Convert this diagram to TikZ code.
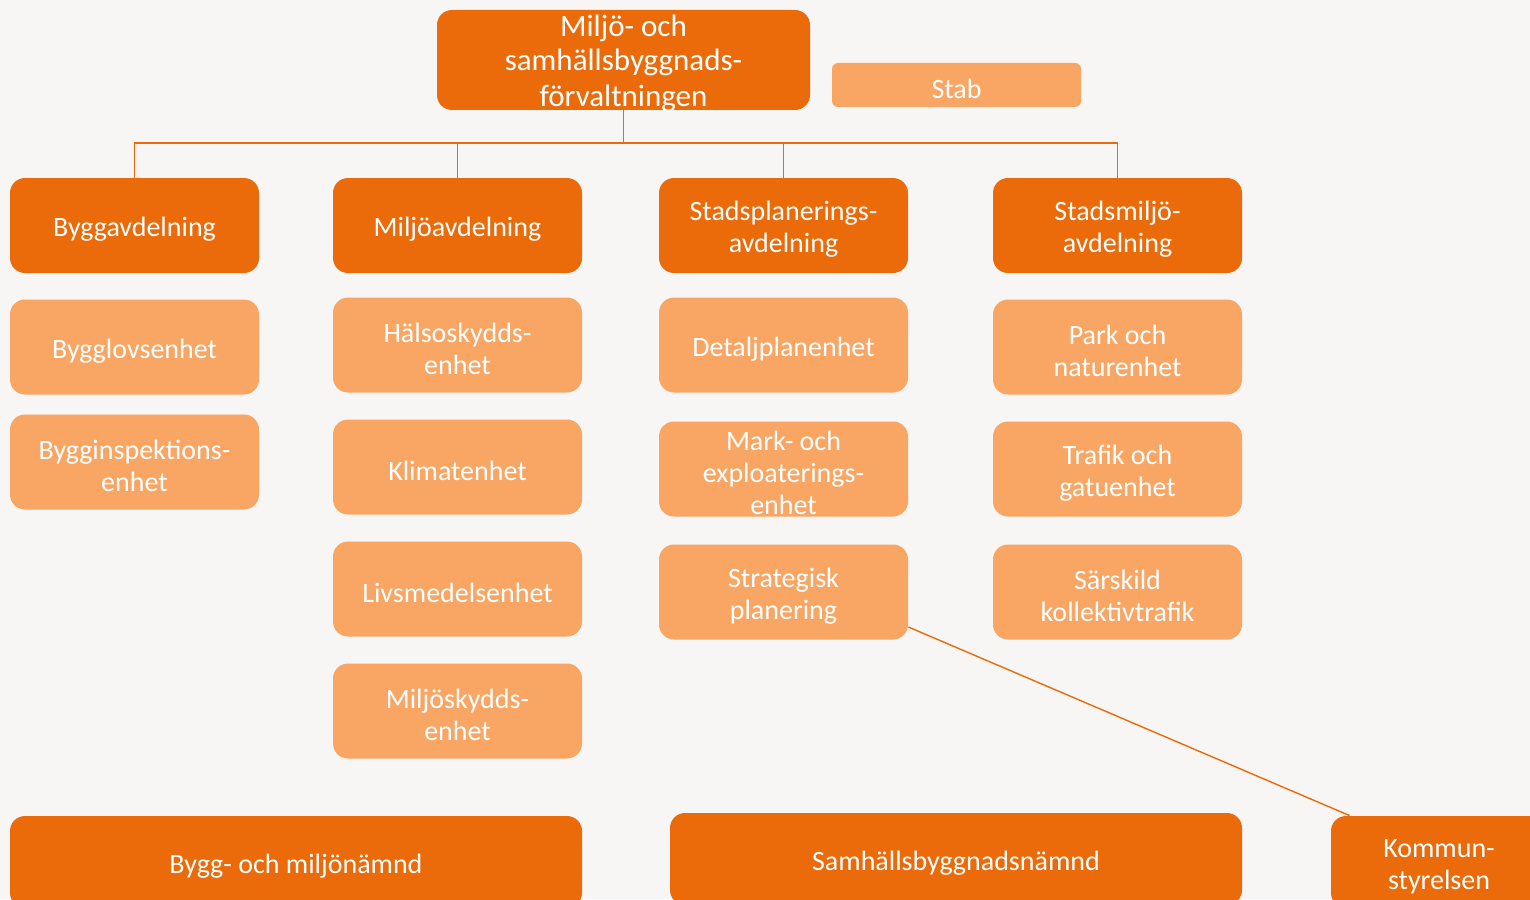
\documentclass[tikz,border=0pt]{standalone}
\usepackage{fontspec}
\setmainfont{Carlito}
\usetikzlibrary{calc}
\usepackage{xcolor}

\definecolor{darkorange}{RGB}{235,106,9}
\definecolor{lightorange}{RGB}{249,166,100}
\definecolor{bgpaper}{RGB}{247,246,244}

\begin{document}
\begin{tikzpicture}[x=0.5pt, y=-0.5pt,
  box/.style={rounded corners=7.5pt, minimum width=124.5pt, minimum height=47.5pt,
    inner sep=0pt, align=center, text=white, font=\fontsize{14}{16}\selectfont},
  oneline/.style={text height=13.5pt},
  twoline/.style={text height=29.5pt},
  threeline/.style={text height=45.5pt},
  dept/.style={box, fill=darkorange},
  unit/.style={box, fill=lightorange},
  conn/.style={draw=darkorange, line width=0.7pt}]

% Page size and background
\useasboundingbox (0,0) rectangle (1530,899);
\fill[bgpaper] (0,0) rectangle (1530,899);
\clip (0,0) rectangle (1530,899);

% Top of the organisation
\node[dept, minimum width=186.5pt, minimum height=50pt, text height=48pt, text depth=2pt,
  font=\fontsize{15.5}{17.5}\selectfont] (forv) at (623.5,60)
  {Miljö- och\\samhällsbyggnads-\\förvaltningen};
\node[unit, oneline, rounded corners=3pt, minimum height=22pt] (stab) at (956.5,85) {Stab};

% Departments
\node[dept, oneline] (bygg)    at (134.5,225.5)  {Byggavdelning};
\node[dept, oneline] (miljo)   at (457.5,225.5)  {Miljöavdelning};
\node[dept, twoline] (stadspl) at (783.5,225.5)  {Stadsplanerings-\\avdelning};
\node[dept, twoline] (stadsm)  at (1117.5,225.5) {Stadsmiljö-\\avdelning};

% Units below each department
\foreach \name/\x/\y/\n/\txt in {
  lov/134.5/347/oneline/{Bygglovsenhet},
  insp/134.5/462/twoline/{Bygginspektions-\\enhet},
  halsa/457.5/345/twoline/{Hälsoskydds-\\enhet},
  klimat/457.5/467/oneline/{Klimatenhet},
  livs/457.5/589/oneline/{Livsmedelsenhet},
  mskydd/457.5/711/twoline/{Miljöskydds-\\enhet},
  detalj/783.5/345/oneline/{Detaljplanenhet},
  mark/783.5/469/threeline/{Mark- och\\exploaterings-\\enhet},
  strat/783.5/592/twoline/{Strategisk\\planering},
  park/1117.5/347/twoline/{Park och\\naturenhet},
  trafik/1117.5/469/twoline/{Trafik och\\gatuenhet},
  koll/1117.5/592/twoline/{Särskild\\kollektivtrafik}} {
  \node[unit, \n] (\name) at (\x,\y) {\txt};
}

% Committees
\node[dept, oneline, minimum width=286pt, minimum height=46pt] (bmn) at (296,862) {Bygg- och miljönämnd};
\node[dept, oneline, minimum width=286pt, minimum height=46pt] (sbn) at (956,859) {Samhällsbyggnadsnämnd};
\node[dept, twoline, minimum width=108pt, minimum height=46pt] (ks)  at (1439,862) {Kommun-\\styrelsen};

% Lines
\coordinate (bus) at (623.5,143);
\draw[conn] (forv.south) -- (bus);
\foreach \d in {bygg,miljo,stadspl,stadsm} {
  \draw[conn] (bus) -| (\d.north);
}
\draw[conn] ($(strat.east)+(0,35)$) -- ($(ks.north west)+(19,0)$);
\end{tikzpicture}
\end{document}
